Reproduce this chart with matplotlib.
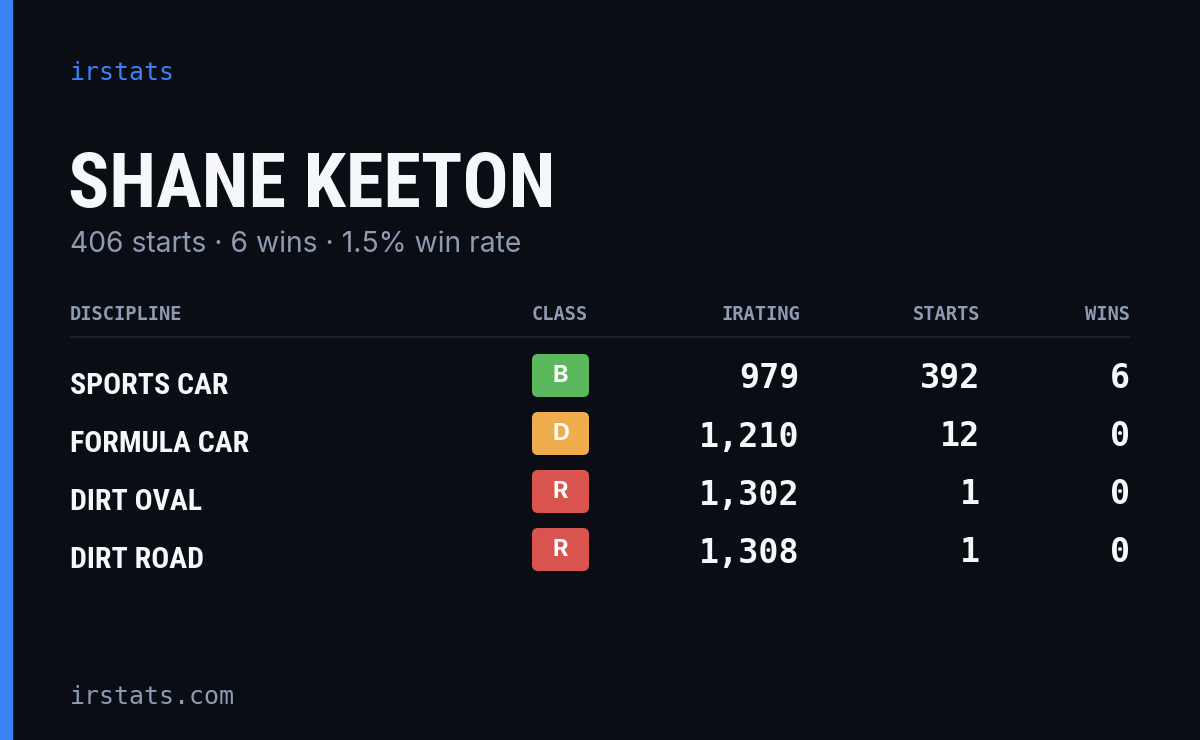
import matplotlib
matplotlib.use("Agg")
import matplotlib.pyplot as plt
from matplotlib.patches import FancyBboxPatch, Rectangle

W, H = 1200, 740

driver = "SHANE KEETON"
total_starts = 406
total_wins = 6
win_rate = 1.5
disciplines = ["SPORTS CAR", "FORMULA CAR", "DIRT OVAL", "DIRT ROAD"]
classes = ["B", "D", "R", "R"]
iratings = [979, 1210, 1302, 1308]
starts = [392, 12, 1, 1]
wins = [6, 0, 0, 0]
class_colors = {"B": "#5cb85c", "D": "#f0ad4e", "R": "#d9534f"}

bg = "#0a0d14"
fg = "#f5f7fb"
muted = "#8e9bb0"
blue = "#3b82f6"

fig = plt.figure(figsize=(W / 100, H / 100), dpi=100, facecolor=bg)
ax = fig.add_axes([0, 0, 1, 1])
ax.set_xlim(0, W)
ax.set_ylim(H, 0)
ax.axis("off")
ax.set_facecolor(bg)

ax.add_patch(Rectangle((0, 0), 12, H, color=blue))

mono = "DejaVu Sans Mono"
narrow = ["Roboto Condensed", "Roboto", "DejaVu Sans"]
ax.text(70, 73, "irstats", color=blue, fontsize=18, family=mono, va="center")
ax.text(68, 187, driver, color=fg, fontsize=55, family=narrow, fontstretch="condensed",
        fontweight="bold", va="center")
ax.text(70, 245, f"{total_starts} starts · {total_wins} wins · {win_rate}% win rate",
        color=muted, fontsize=20.4, family="Inter", va="center")

hy = 314
hkw = dict(color=muted, fontsize=13.5, family=mono, fontweight="bold", va="center")
ax.text(70, hy, "DISCIPLINE", **hkw)
ax.text(560, hy, "CLASS", ha="center", **hkw)
ax.text(800, hy, "IRATING", ha="right", **hkw)
ax.text(980, hy, "STARTS", ha="right", **hkw)
ax.text(1130, hy, "WINS", ha="right", **hkw)
ax.plot([70, 1130], [337, 337], color="#1e2430", lw=1.2)

vkw = dict(color=fg, fontsize=24, family=mono, fontweight="bold", ha="right", va="center")
for i, d in enumerate(disciplines):
    y = 378 + i * 58
    ax.text(70, y + 8, d, color=fg, fontsize=21.5, family=narrow, fontstretch="condensed",
            fontweight="bold", va="center")
    c = classes[i]
    ax.add_patch(FancyBboxPatch((532, y - 24), 57, 43, boxstyle="round,pad=0,rounding_size=6",
                                color=class_colors[c], lw=0))
    ax.text(560.5, y - 2, c, color="white", fontsize=17, fontweight="bold",
            family="Inter", ha="center", va="center")
    ax.text(800, y + 1, f"{iratings[i]:,}", **vkw)
    ax.text(980, y + 1, f"{starts[i]}", **vkw)
    ax.text(1130, y + 1, f"{wins[i]}", **vkw)

ax.text(70, 697, "irstats.com", color=muted, fontsize=18, family=mono, va="center")

fig.savefig("out.png", dpi=100, facecolor=bg)
